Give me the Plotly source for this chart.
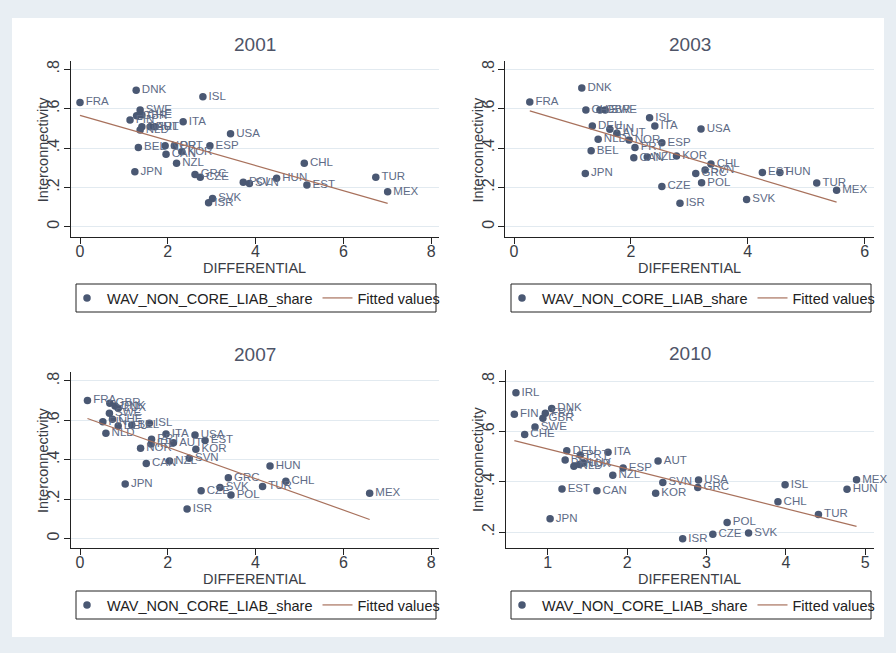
import numpy as np
import plotly.graph_objects as go

# ---------------- data ----------------
years = ["2001", "2003", "2007", "2010"]

c2001 = ["FRA", "DNK", "ISL", "SWE", "CHE", "GBR", "FIN", "DEU", "AUT", "IRL", "NLD",
         "ITA", "USA", "BEL", "NOR", "PRT", "ESP", "CAN", "KOR", "NZL", "JPN", "CHL",
         "GRC", "CZE", "POL", "SVN", "HUN", "EST", "TUR", "MEX", "SVK", "ISR"]
x2001 = [0.00, 1.28, 2.80, 1.37, 1.41, 1.29, 1.14, 1.41, 1.60, 1.71, 1.37,
         2.35, 3.43, 1.33, 1.94, 2.15, 2.96, 1.96, 2.32, 2.20, 1.25, 5.11,
         2.62, 2.74, 3.72, 3.86, 4.48, 5.17, 6.74, 7.01, 3.02, 2.93]
y2001 = [0.631, 0.693, 0.661, 0.593, 0.568, 0.564, 0.542, 0.508, 0.508, 0.508, 0.491,
         0.534, 0.473, 0.402, 0.412, 0.412, 0.412, 0.368, 0.381, 0.322, 0.280, 0.322,
         0.266, 0.251, 0.226, 0.220, 0.246, 0.212, 0.251, 0.178, 0.144, 0.122]

c2003 = ["FRA", "DNK", "CHE", "GBR", "SWE", "DEU", "FIN", "AUT", "NLD", "NOR", "ISL",
         "ITA", "USA", "ESP", "PRT", "BEL", "CAN", "NZL", "KOR", "JPN", "CHL", "SVN",
         "GRC", "POL", "CZE", "ISR", "SVK", "EST", "HUN", "TUR", "MEX"]
x2003 = [0.27, 1.16, 1.23, 1.47, 1.56, 1.34, 1.64, 1.76, 1.44, 1.97, 2.32,
         2.41, 3.20, 2.53, 2.07, 1.32, 2.05, 2.28, 2.78, 1.22, 3.37, 3.27,
         3.11, 3.21, 2.53, 2.84, 3.98, 4.25, 4.55, 5.18, 5.52]
y2003 = [0.634, 0.705, 0.593, 0.593, 0.593, 0.512, 0.495, 0.475, 0.444, 0.441, 0.554,
         0.512, 0.497, 0.427, 0.402, 0.386, 0.351, 0.354, 0.359, 0.271, 0.319, 0.288,
         0.271, 0.224, 0.205, 0.120, 0.139, 0.275, 0.275, 0.222, 0.185]

c2007 = ["FRA", "GBR", "DNK", "LUX", "SWE", "CHE", "FIN", "DEU", "BEL", "ISL", "NLD",
         "ITA", "USA", "EST", "PRT", "IRL", "AUT", "KOR", "NOR", "CAN", "NZL", "SVN",
         "HUN", "GRC", "JPN", "TUR", "SVK", "CZE", "POL", "CHL", "MEX", "ISR"]
x2007 = [0.17, 0.68, 0.80, 0.87, 0.67, 0.74, 0.52, 0.87, 1.18, 1.58, 0.59,
         1.96, 2.62, 2.85, 1.63, 1.62, 2.13, 2.64, 1.38, 1.51, 2.04, 2.49,
         4.33, 3.38, 1.03, 4.16, 3.19, 2.76, 3.44, 4.69, 6.60, 2.44]
y2007 = [0.700, 0.687, 0.673, 0.661, 0.636, 0.605, 0.593, 0.571, 0.576, 0.585, 0.534,
         0.531, 0.525, 0.497, 0.504, 0.480, 0.486, 0.453, 0.458, 0.381, 0.393, 0.407,
         0.368, 0.308, 0.276, 0.263, 0.259, 0.242, 0.220, 0.290, 0.229, 0.149]

c2010 = ["IRL", "FIN", "DNK", "FRA", "GBR", "SWE", "CHE", "DEU", "BEL", "PRT", "NLD",
         "NOR", "LUX", "ITA", "ESP", "AUT", "NZL", "SVN", "EST", "CAN", "KOR", "USA",
         "GRC", "ISL", "MEX", "HUN", "CHL", "TUR", "JPN", "POL", "SVK", "CZE", "ISR"]
x2010 = [0.60, 0.58, 1.05, 0.97, 0.94, 0.84, 0.71, 1.24, 1.22, 1.41, 1.33,
         1.40, 1.45, 1.76, 1.95, 2.39, 1.82, 2.45, 1.18, 1.62, 2.36, 2.90,
         2.89, 3.99, 4.89, 4.77, 3.90, 4.41, 1.03, 3.26, 3.53, 3.08, 2.70]
y2010 = [0.754, 0.668, 0.691, 0.672, 0.652, 0.618, 0.588, 0.523, 0.486, 0.506, 0.462,
         0.469, 0.475, 0.517, 0.455, 0.482, 0.426, 0.397, 0.371, 0.364, 0.354, 0.407,
         0.377, 0.388, 0.408, 0.370, 0.321, 0.270, 0.253, 0.238, 0.196, 0.191, 0.174]

panels_data = [(c2001, x2001, y2001), (c2003, x2003, y2003),
               (c2007, x2007, y2007), (c2010, x2010, y2010)]

x_ticks = [[0, 2, 4, 6, 8], [0, 2, 4, 6], [0, 2, 4, 6, 8], [1, 2, 3, 4, 5]]
y_ticks = [[0, 0.2, 0.4, 0.6, 0.8]] * 3 + [[0.2, 0.4, 0.6, 0.8]]
y_ticktext = [["0", ".2", ".4", ".6", ".8"]] * 3 + [[".2", ".4", ".6", ".8"]]

# ---------------- layout geometry (pixels) ----------------
W, H = 896, 653
# left, right, top, bottom of each plot region
boxes = [(70.7, 439, 61, 237), (505, 874, 61, 237),
         (70.7, 439, 371.7, 548), (505.7, 874, 370, 547.7)]
x_ranges = [(-0.212, 8.18), (-0.154, 6.16), (-0.212, 8.18), (0.471, 5.11)]
y_ranges = [(-0.052, 0.842), (-0.052, 0.842), (-0.049, 0.847), (0.138, 0.844)]
# legend frame: left, top, right, bottom
legend_frames = [(76, 284, 436, 312), (511, 284, 871, 312),
                 (76, 591, 436, 619), (511, 591, 871, 619)]

FONT = "Liberation Sans, Arial, sans-serif"
MARKER = "#4A5873"
LABEL = "#5E6B86"
FIT = "#A8715C"
GRID = "#E2EAF0"
AXIS_TXT = "#3A3D45"
TITLE_TXT = "#4E5467"


def px_x(v):
    return v / W


def px_y(v):
    return 1 - v / H


fig = go.Figure()
annotations = []
shapes = [dict(type="rect", xref="paper", yref="paper", layer="below",
               x0=px_x(12), x1=px_x(884), y0=px_y(637), y1=px_y(18),
               fillcolor="white", line=dict(width=0))]
layout = {}

for i, ((cty, xs, ys), yr) in enumerate(zip(panels_data, years)):
    n = "" if i == 0 else str(i + 1)
    xa, ya = "x" + n, "y" + n
    leg = "legend" + n
    xs_a = np.array(xs)
    ys_a = np.array(ys)

    fig.add_trace(go.Scatter(
        x=xs, y=ys, text=cty, mode="markers+text", textposition="middle right",
        textfont=dict(family=FONT, size=11.5, color=LABEL),
        marker=dict(size=7.5, color=MARKER),
        name="WAV_NON_CORE_LIAB_share", xaxis=xa, yaxis=ya, legend=leg,
        cliponaxis=False,
    ))

    # linear fit over the observed range
    slope, intercept = np.polyfit(xs_a, ys_a, 1)
    fx = np.array([xs_a.min(), xs_a.max()])
    fig.add_trace(go.Scatter(
        x=fx, y=intercept + slope * fx, mode="lines",
        line=dict(color=FIT, width=1.2),
        name="Fitted values", xaxis=xa, yaxis=ya, legend=leg,
    ))

    l, r, t, b = boxes[i]
    layout["xaxis" + n] = dict(
        domain=[px_x(l), px_x(r)], range=list(x_ranges[i]), anchor=ya,
        tickvals=x_ticks[i], ticks="outside", ticklen=6, tickcolor="#222",
        showline=True, linecolor="#222", linewidth=1, showgrid=False, zeroline=False,
        tickfont=dict(family=FONT, size=16, color=AXIS_TXT),
    )
    layout["yaxis" + n] = dict(
        domain=[px_y(b), px_y(t)], range=list(y_ranges[i]), anchor=xa,
        tickvals=y_ticks[i], ticktext=y_ticktext[i], tickangle=-90,
        ticks="outside", ticklen=6, tickcolor="#222",
        showline=True, linecolor="#222", linewidth=1,
        showgrid=True, gridcolor=GRID, gridwidth=1, zeroline=False,
        tickfont=dict(family=FONT, size=16, color=AXIS_TXT),
    )

    cx = (l + r) / 2
    annotations.append(dict(text=yr, x=px_x(cx), y=px_y(t - 17), xref="paper", yref="paper",
                            showarrow=False, font=dict(family=FONT, size=19, color=TITLE_TXT),
                            xanchor="center", yanchor="middle"))
    annotations.append(dict(text="DIFFERENTIAL", x=px_x(cx), y=px_y(b + 31), xref="paper",
                            yref="paper", showarrow=False,
                            font=dict(family=FONT, size=14.5, color=AXIS_TXT),
                            xanchor="center", yanchor="middle"))
    annotations.append(dict(text="Interconnectivity", x=px_x(l - 27.5), y=px_y((t + b) / 2),
                            xref="paper", yref="paper", showarrow=False, textangle=-90,
                            font=dict(family=FONT, size=14.5, color=AXIS_TXT),
                            xanchor="center", yanchor="middle"))

    fl, ft, fr, fb = legend_frames[i]
    shapes.append(dict(type="rect", xref="paper", yref="paper",
                       x0=px_x(fl), x1=px_x(fr), y0=px_y(fb), y1=px_y(ft),
                       line=dict(color="#222", width=1), fillcolor="rgba(0,0,0,0)"))
    layout[leg] = dict(
        orientation="h", x=px_x(fl - 9), y=px_y((ft + fb) / 2),
        xanchor="left", yanchor="middle",
        borderwidth=0, bgcolor="rgba(0,0,0,0)",
        font=dict(family=FONT, size=14.5, color="#222"),
        itemwidth=30, tracegroupgap=0,
    )

fig.update_layout(
    width=W, height=H, margin=dict(l=0, r=0, t=0, b=0),
    paper_bgcolor="#E8EEF3", plot_bgcolor="white",
    showlegend=True, annotations=annotations, shapes=shapes,
    **layout,
)

# pull tick labels a little closer to the axes
try:
    fig.update_xaxes(ticklabelstandoff=-6)
    fig.update_yaxes(ticklabelstandoff=-2)
except ValueError:
    pass

fig.write_html("out.html")
